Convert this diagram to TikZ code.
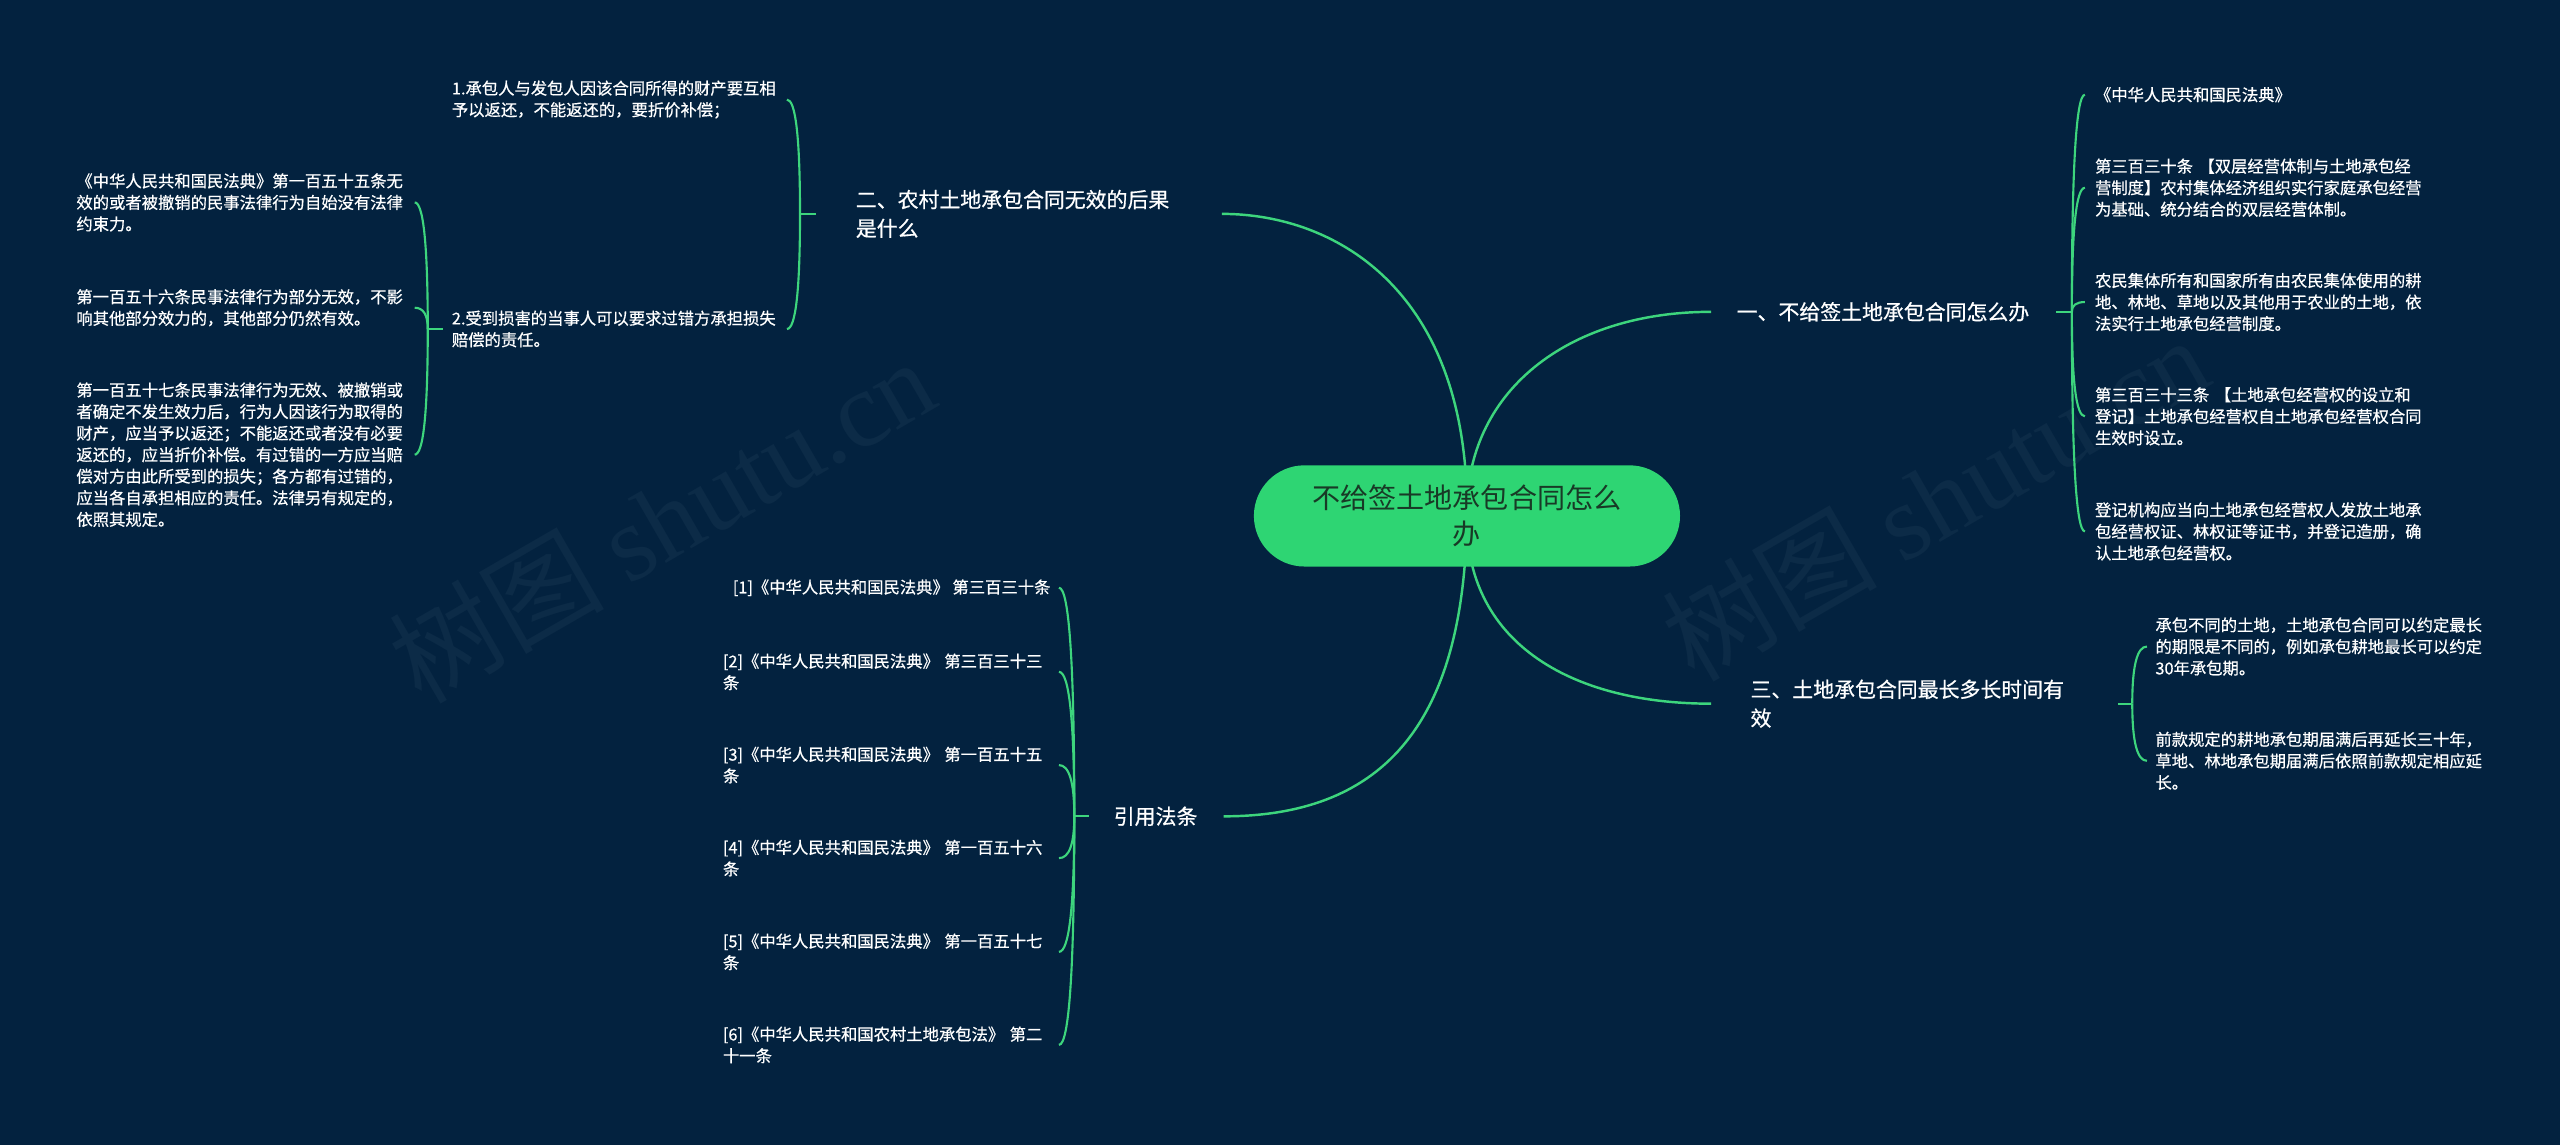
\documentclass[tikz,border=0pt]{standalone}
\usepackage{fontspec}
\setmainfont{Noto Sans CJK SC}
\newfontfamily\wfont{Noto Sans CJK SC}[RawFeature={embolden=0.6}]
\newfontfamily\wmfont{Liberation Serif}
\usetikzlibrary{calc}
\definecolor{bgcol}{RGB}{3,34,63}
\definecolor{lncol}{RGB}{61,213,125}
\definecolor{rootfill}{RGB}{46,213,115}
\definecolor{roottext}{RGB}{24,58,38}
\definecolor{wmcol}{RGB}{12,43,71}
\pgfdeclarelayer{back}
\pgfdeclarelayer{lines}
\pgfsetlayers{back,lines,main}
\begin{document}
\begin{tikzpicture}[x=1pt,y=-1pt,
  conn/.style={draw=lncol, line width=1.5pt},
  brk/.style={draw=lncol, line width=1.3pt},
  bcurve/.style={to path={.. controls ($(\tikztostart)!0.6667!(\tikztostart |- \tikztotarget)$) and ($(\tikztotarget)!0.6667!(\tikztostart |- \tikztotarget)$) .. (\tikztotarget)}},
  rootbox/.style={fill=rootfill, rounded corners=31pt, minimum width=261pt, minimum height=62pt,
    text=roottext, font=\fontsize{17.2}{22}\selectfont, align=center, inner sep=0pt},
  lvone/.style={text=white, font=\wfont\fontsize{12.8}{17.6}\selectfont, align=left, inner ysep=2pt},
  leaf/.style={text=white, font=\wfont\fontsize{10}{13.2}\selectfont, align=left, inner xsep=5pt, inner ysep=2pt},
  wm/.style={text=wmcol, font=\fontsize{66}{66}\selectfont, inner sep=0pt}
]
\begin{pgfonlayer}{back}
  \fill[bgcol] (0,0) rectangle (1568,701);
  \node[wm, rotate=30] (wmA) at (405,318) {树图 {\wmfont shutu.cn}};
  \node[wm, rotate=30] (wmB) at (1185,305) {树图 {\wmfont shutu.cn}};
\end{pgfonlayer}

% root
\node[rootbox] (root) at (898.5,316) {不给签土地承包合同怎么\\办};

% level one
\node[lvone, anchor=west, inner xsep=24pt, text width=200pt] (n2) at (500,131) {二、农村土地承包合同无效的后果\\是什么};
\node[lvone, anchor=west, inner xsep=15.5pt, text width=180pt] (n1) at (1048,191) {一、不给签土地承包合同怎么办};
\node[lvone, anchor=west, inner xsep=24pt, text width=201pt] (n3) at (1048,431) {三、土地承包合同最长多长时间有\\效};
\node[lvone, anchor=west, inner xsep=15pt, text width=52pt] (n4) at (667,500) {引用法条};

% junctions
\coordinate (j2) at (490,131);
\coordinate (j2b) at (262,201.5);
\coordinate (j1) at (1269,191);
\coordinate (j3) at (1306,431);
\coordinate (j4) at (658,500);

% group two
\node[leaf, anchor=east, text width=200pt] (a1) at (482,61) {1.承包人与发包人因该合同所得的财产要互相\\予以返还，不能返还的，要折价补偿；};
\node[leaf, anchor=east, text width=200pt] (a2) at (482,201.5) {2.受到损害的当事人可以要求过错方承担损失\\赔偿的责任。};
\node[leaf, anchor=east, text width=202pt] (b1) at (254,124) {《中华人民共和国民法典》第一百五十五条无\\效的或者被撤销的民事法律行为自始没有法律\\约束力。};
\node[leaf, anchor=east, text width=202pt] (b2) at (254,188.5) {第一百五十六条民事法律行为部分无效，不影\\响其他部分效力的，其他部分仍然有效。};
\node[leaf, anchor=east, text width=202pt] (b3) at (254,278.5) {第一百五十七条民事法律行为无效、被撤销或\\者确定不发生效力后，行为人因该行为取得的\\财产，应当予以返还；不能返还或者没有必要\\返还的，应当折价补偿。有过错的一方应当赔\\偿对方由此所受到的损失；各方都有过错的，\\应当各自承担相应的责任。法律另有规定的，\\依照其规定。};

% group one
\node[leaf, anchor=west, inner xsep=6pt, text width=205pt] (c1) at (1277,58) {《中华人民共和国民法典》};
\node[leaf, anchor=west, inner xsep=6pt, text width=205pt] (c2) at (1277,115) {第三百三十条~【双层经营体制与土地承包经\\营制度】农村集体经济组织实行家庭承包经营\\为基础、统分结合的双层经营体制。};
\node[leaf, anchor=west, inner xsep=6pt, text width=205pt] (c3) at (1277,185) {农民集体所有和国家所有由农民集体使用的耕\\地、林地、草地以及其他用于农业的土地，依\\法实行土地承包经营制度。};
\node[leaf, anchor=west, inner xsep=6pt, text width=205pt] (c4) at (1277,255) {第三百三十三条~【土地承包经营权的设立和\\登记】土地承包经营权自土地承包经营权合同\\生效时设立。};
\node[leaf, anchor=west, inner xsep=6pt, text width=205pt] (c5) at (1277,325.5) {登记机构应当向土地承包经营权人发放土地承\\包经营权证、林权证等证书，并登记造册，确\\认土地承包经营权。};

% group three
\node[leaf, anchor=west, text width=205pt] (d1) at (1315,396) {承包不同的土地，土地承包合同可以约定最长\\的期限是不同的，例如承包耕地最长可以约定\\30年承包期。};
\node[leaf, anchor=west, text width=205pt] (d2) at (1315,466) {前款规定的耕地承包期届满后再延长三十年，\\草地、林地承包期届满后依照前款规定相应延\\长。};

% citations
\node[leaf, anchor=east] (e1) at (648.6,360) {[1]《中华人民共和国民法典》~第三百三十条};
\node[leaf, anchor=east, text width=200.6pt] (e2) at (648.6,411.5) {[2]《中华人民共和国民法典》~第三百三十三\\条};
\node[leaf, anchor=east, text width=200.6pt] (e3) at (648.6,468.6) {[3]《中华人民共和国民法典》~第一百五十五\\条};
\node[leaf, anchor=east, text width=200.6pt] (e4) at (648.6,525.6) {[4]《中华人民共和国民法典》~第一百五十六\\条};
\node[leaf, anchor=east, text width=200.6pt] (e5) at (648.6,583) {[5]《中华人民共和国民法典》~第一百五十七\\条};
\node[leaf, anchor=east, text width=200.6pt] (e6) at (648.6,640) {[6]《中华人民共和国农村土地承包法》~第二\\十一条};

\begin{pgfonlayer}{lines}
  % main branches
  \draw[conn] (root.center) .. controls (900,180) and (820,131) .. (n2.east);
  \draw[conn] (root.center) .. controls (897,240) and (960,191) .. (n1.west);
  \draw[conn] (root.center) .. controls (897,392) and (960,431) .. (n3.west);
  \draw[conn] (root.center) .. controls (897,440) and (850,500) .. (n4.east);
  % group two bracket
  \draw[brk] (j2) -- (n2.west);
  \draw[brk] (j2) to[bcurve] (a1.east);
  \draw[brk] (j2) to[bcurve] (a2.east);
  % sub bracket
  \draw[brk] (j2b) -- (a2.west);
  \draw[brk] (j2b) to[bcurve] (b1.east);
  \draw[brk] (j2b) to[bcurve] (b2.east);
  \draw[brk] (j2b) to[bcurve] (b3.east);
  % group one bracket
  \draw[brk] (n1.east) -- (j1);
  \draw[brk] (j1) to[bcurve] (c1.west);
  \draw[brk] (j1) to[bcurve] (c2.west);
  \draw[brk] (j1) to[bcurve] (c3.west);
  \draw[brk] (j1) to[bcurve] (c4.west);
  \draw[brk] (j1) to[bcurve] (c5.west);
  % group three bracket
  \draw[brk] (n3.east) -- (j3);
  \draw[brk] (j3) to[bcurve] (d1.west);
  \draw[brk] (j3) to[bcurve] (d2.west);
  % citations bracket
  \draw[brk] (j4) -- (n4.west);
  \draw[brk] (j4) to[bcurve] (e1.east);
  \draw[brk] (j4) to[bcurve] (e2.east);
  \draw[brk] (j4) to[bcurve] (e3.east);
  \draw[brk] (j4) to[bcurve] (e4.east);
  \draw[brk] (j4) to[bcurve] (e5.east);
  \draw[brk] (j4) to[bcurve] (e6.east);
\end{pgfonlayer}
\end{tikzpicture}
\end{document}
